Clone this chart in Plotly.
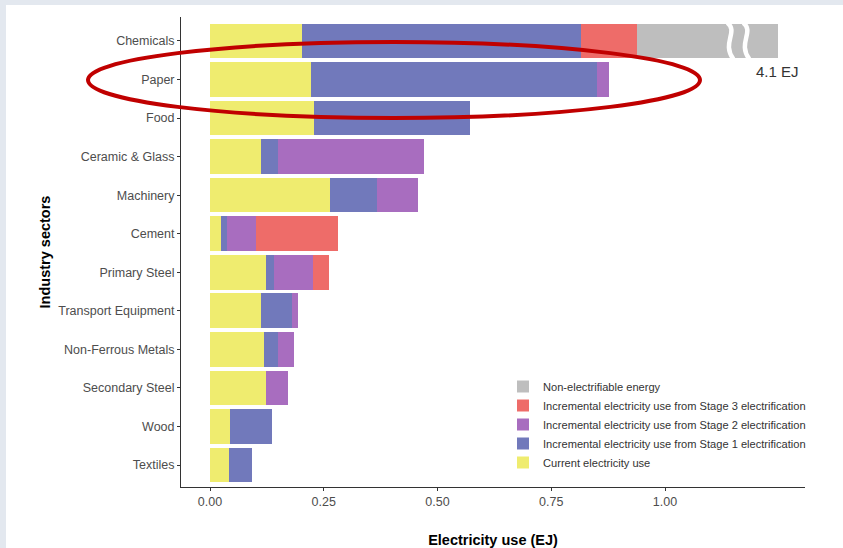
import plotly.graph_objects as go

sectors = ["Chemicals", "Paper", "Food", "Ceramic & Glass", "Machinery", "Cement",
           "Primary Steel", "Transport Equipment", "Non-Ferrous Metals",
           "Secondary Steel", "Wood", "Textiles"]
current = [0.202, 0.222, 0.229, 0.112, 0.264, 0.025, 0.122, 0.111, 0.119, 0.122, 0.044, 0.042]
stage1 = [0.613, 0.629, 0.342, 0.037, 0.103, 0.012, 0.019, 0.069, 0.030, 0.000, 0.093, 0.051]
stage2 = [0.000, 0.026, 0.000, 0.321, 0.090, 0.064, 0.086, 0.013, 0.035, 0.049, 0.000, 0.000]
stage3 = [0.123, 0.000, 0.000, 0.000, 0.000, 0.180, 0.034, 0.000, 0.000, 0.000, 0.000, 0.000]
# non-electrifiable energy, drawn truncated (axis break); true total labelled
non_elec = [0.310, 0, 0, 0, 0, 0, 0, 0, 0, 0, 0, 0]
chem_total_label = "4.1 EJ"
x_ticks = [0.0, 0.25, 0.5, 0.75, 1.0]
x_tick_labels = ["0.00", "0.25", "0.50", "0.75", "1.00"]

series = [
    ("Current electricity use", current, "#EFEC6F"),
    ("Incremental electricity use from Stage 1 electrification", stage1, "#7179BB"),
    ("Incremental electricity use from Stage 2 electrification", stage2, "#A86DBF"),
    ("Incremental electricity use from Stage 3 electrification", stage3, "#EE6C69"),
    ("Non-electrifiable energy", non_elec, "#BEBEBE"),
]

W, H = 843, 548
L, R, T, B = 181, 38, 17, 61
pw, ph = W - L - R, H - T - B

def px(x):
    return (x - L) / pw

def py(y):
    return (H - B - y) / ph

fig = go.Figure()
for name, vals, col in series:
    fig.add_trace(go.Bar(
        y=sectors, x=vals, name=name, orientation="h",
        marker=dict(color=col, line=dict(width=0)),
        hovertemplate="%{y}: %{x:.3f} EJ<extra>" + name + "</extra>",
    ))

n = len(sectors)
y_lo, y_hi = -0.57, n - 1 + 0.62

# axis-break marks on chemicals bar
chem_end = sum(s[1][0] for s in series)
idx = n - 1  # Chemicals is top
yc = (idx - y_lo) / (y_hi - y_lo)
half = 0.5 * 0.9 / (y_hi - y_lo)
shapes = []
for xb in [chem_end - 0.105, chem_end - 0.070]:
    top, bot = yc + half * 1.05, yc - half * 1.05
    h = top - bot
    w = 0.012
    shapes.append(dict(
        type="path", xref="x", yref="paper",
        path=(f"M {xb - w/2},{top} C {xb + w*1.6},{top - h*0.25} {xb - w*1.6},{top - h*0.55} "
              f"{xb + w*0.6},{bot}"),
        line=dict(color="white", width=4.5),
    ))

# bluish page strips at left and top edges
edge = "#E3E8EF"
shapes.insert(0, dict(type="rect", xref="paper", yref="paper", layer="below",
                      x0=px(-5), x1=px(6), y0=py(H + 5), y1=py(-5),
                      fillcolor=edge, line=dict(width=0)))
shapes.insert(0, dict(type="rect", xref="paper", yref="paper", layer="below",
                      x0=px(-5), x1=px(W + 5), y0=py(5), y1=py(-5),
                      fillcolor=edge, line=dict(width=0)))
# red hand-drawn ellipse highlight
shapes.append(dict(type="circle", xref="paper", yref="paper",
                   x0=px(88), x1=px(700), y0=py(118), y1=py(42),
                   line=dict(color="#C00000", width=4)))

fig.update_layout(
    width=W, height=H,
    margin=dict(l=L, r=R, t=T, b=B),
    barmode="stack", bargap=0.1,
    paper_bgcolor="white", plot_bgcolor="white",
    font=dict(family="Liberation Sans, Arial, sans-serif", size=12.5, color="#4D4D4D"),
    showlegend=True,
    legend=dict(x=px(503), y=py(372), xanchor="left", yanchor="top",
                traceorder="reversed", bgcolor="rgba(0,0,0,0)",
                font=dict(size=11.1, color="#333333"), tracegroupgap=0,
                itemwidth=30),
    xaxis=dict(range=[-29 / 455, (W - R - 210) / 455], tickvals=x_ticks,
               ticktext=x_tick_labels, showgrid=False, zeroline=False,
               showline=True, linecolor="#333333", linewidth=1,
               ticks="outside", ticklen=3, tickcolor="#333333", automargin=False,
               title=dict(text="<b>Electricity use (EJ)</b>", standoff=26,
                          font=dict(size=14.5, color="#000000"))),
    yaxis=dict(categoryorder="array", categoryarray=sectors[::-1],
               range=[y_lo, y_hi], showgrid=False, zeroline=False,
               showline=True, linecolor="#333333", linewidth=1,
               ticks="outside", ticklen=3, tickcolor="#333333", automargin=False,
               title=dict(text="<b>Industry sectors</b>", standoff=4,
                          font=dict(size=14.5, color="#000000"))),
    shapes=shapes,
    annotations=[dict(x=chem_end, y=(idx - 0.8 - y_lo) / (y_hi - y_lo),
                      xref="x", yref="paper", text=chem_total_label,
                      showarrow=False, xanchor="center", yanchor="middle",
                      font=dict(size=15, color="#333333"))],
)

fig.write_html("out.html", post_script="document.body.style.margin='0';",
               config={"displayModeBar": False})
